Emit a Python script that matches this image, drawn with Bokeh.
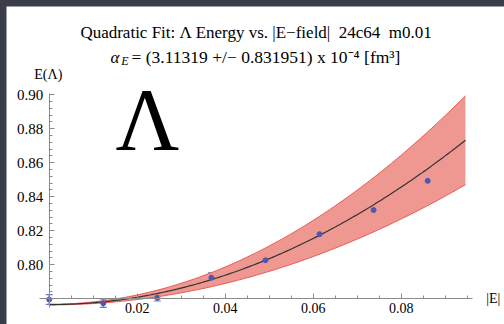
import numpy as np
from bokeh.plotting import figure
from bokeh.models import (ColumnDataSource, Whisker, TeeHead, Label, FixedTicker,
                          PrintfTickFormatter, Range1d, GlobalInlineStyleSheet)
from bokeh.embed import file_html
from bokeh.resources import INLINE

# ---- data ----
E_field = [0.0, 0.01229, 0.02458, 0.03686, 0.04915, 0.06144, 0.07373, 0.08602]
energy = [0.7796, 0.7774, 0.7806, 0.7924, 0.8027, 0.8180, 0.8322, 0.8494]
energy_err = [0.0029, 0.0024, 0.0019, 0.0029, 0.0006, 0.0027, 0.0019, 0.0022]

# quadratic fit E(x) = E0 + a x^2 and its band
fit_E0 = 0.7766
fit_E0_err = 0.0002
fit_a = 10.8
fit_a_err = 2.9
fit_x_max = 0.0946

x_major_ticks = [0.02, 0.04, 0.06, 0.08]
x_minor_ticks = [0.005, 0.01, 0.015, 0.025, 0.03, 0.035, 0.045, 0.05, 0.055,
                 0.065, 0.07, 0.075, 0.085, 0.09, 0.095]
y_major_ticks = [0.80, 0.82, 0.84, 0.86, 0.88, 0.90]
y_minor_ticks = [0.784, 0.788, 0.792, 0.796, 0.804, 0.808, 0.812, 0.816,
                 0.824, 0.828, 0.832, 0.836, 0.844, 0.848, 0.852, 0.856,
                 0.864, 0.868, 0.872, 0.876, 0.884, 0.888, 0.892, 0.896]

title_line1 = "Quadratic Fit: \u039b Energy vs. |E\u2212field| \u00a024c64 \u00a0m0.01"
title_alpha = "\u03b1"
title_sub = "E"
title_rest = "= (3.11319 +/\u2212 0.831951) x 10\u207b\u2074 [fm\u00b3]"
y_label = "E(\u039b)"
x_label = "|E|"
big_symbol = "\u039b"

FONT = "Liberation Serif"
W, H = 504, 324
PAD = 6            # dark strip at left/top

# ---- figure ----
p = figure(width=W, height=H, output_backend="svg", toolbar_location=None,
           x_range=Range1d(-0.009705, 0.103477), y_range=Range1d(0.764882, 0.951941),
           min_border_left=PAD, min_border_top=PAD,
           min_border_right=0, min_border_bottom=0,
           background_fill_color="white", border_fill_color="#3b3e48",
           outline_line_color=None)
p.stylesheets = [GlobalInlineStyleSheet(css="body{background:#3b3e48;}")]
p.grid.visible = False

# axes crossing at (0, 0.78)
p.xaxis.fixed_location = 0.78
p.xaxis.bounds = (-0.0022, 0.0963)
p.xaxis.ticker = FixedTicker(ticks=x_major_ticks, minor_ticks=x_minor_ticks)
p.xaxis.major_label_standoff = 4
p.xaxis.major_label_text_font_size = "14px"
p.xaxis.major_label_text_font = "'Liberation Serif'"

p.yaxis.fixed_location = 0.0
p.yaxis.bounds = (0.7751, 0.901)
p.yaxis.ticker = FixedTicker(ticks=y_major_ticks, minor_ticks=y_minor_ticks)
p.yaxis.major_label_standoff = 6
p.yaxis.major_label_text_font_size = "15px"
p.yaxis.major_label_text_font = "Times New Roman"

p.axis.formatter = PrintfTickFormatter(format="%.2f")
p.axis.major_tick_in = 5
p.axis.major_tick_out = 0
p.axis.minor_tick_in = 3
p.axis.minor_tick_out = 0
p.axis.axis_line_color = "#8a8a8a"
p.axis.major_tick_line_color = "#8a8a8a"
p.axis.minor_tick_line_color = "#8a8a8a"
p.axis.major_label_text_font_style = "normal"
p.axis.major_label_text_color = "black"

# ---- fit band and curve ----
xf = np.linspace(0.0, fit_x_max, 200)
yc = fit_E0 + fit_a * xf ** 2
yu = fit_E0 + fit_E0_err + (fit_a + fit_a_err) * xf ** 2
yl = fit_E0 - fit_E0_err + (fit_a - fit_a_err) * xf ** 2
band = ColumnDataSource(dict(x=xf, yc=yc, yu=yu, yl=yl))
p.varea(x="x", y1="yl", y2="yu", source=band, fill_color="#ee9891", fill_alpha=1.0)
p.line(x="x", y="yu", source=band, line_color="#e65a50", line_width=1)
p.line(x="x", y="yl", source=band, line_color="#e65a50", line_width=1)
p.line(x="x", y="yc", source=band, line_color="#333333", line_width=1.2)

# ---- data points with error bars ----
src = ColumnDataSource(dict(
    x=E_field, y=energy,
    upper=[e + d for e, d in zip(energy, energy_err)],
    lower=[e - d for e, d in zip(energy, energy_err)]))
whisk = Whisker(base="x", upper="upper", lower="lower", source=src,
                dimension="height", line_color="#6a78c6", line_width=1.2,
                upper_head=TeeHead(size=7, line_color="#6a78c6", line_width=1.2),
                lower_head=TeeHead(size=7, line_color="#6a78c6", line_width=1.2))
p.add_layout(whisk)
p.scatter(x="x", y="y", source=src, size=5, marker="circle",
          fill_color="#4a5ab4", line_color="#4a5ab4")

# ---- texts (positions given in page pixels from top-left) ----
def lab(text, x_px, y_px, size, align="left", baseline="alphabetic", style="normal"):
    p.add_layout(Label(x=x_px - PAD, y=H - y_px, x_units="screen", y_units="screen",
                       text=text, text_font=FONT, text_font_size=size,
                       text_align=align, text_baseline=baseline,
                       text_font_style=style, text_color="black"))

lab(title_line1, 255.8, 32, "17px", align="center")
lab(title_alpha, 110, 56.7, "17px", style="italic")
lab(title_sub, 120.7, 60, "12px", style="italic")
lab(title_rest, 131, 56.7, "17.5px")
lab(y_label, 47.8, 74, "14px", align="center", baseline="middle")
lab(x_label, 485.7, 298, "14px", baseline="middle")
lab(big_symbol, 147, 119, "88px", align="center")

open("out.html", "w").write(file_html(p, INLINE))
